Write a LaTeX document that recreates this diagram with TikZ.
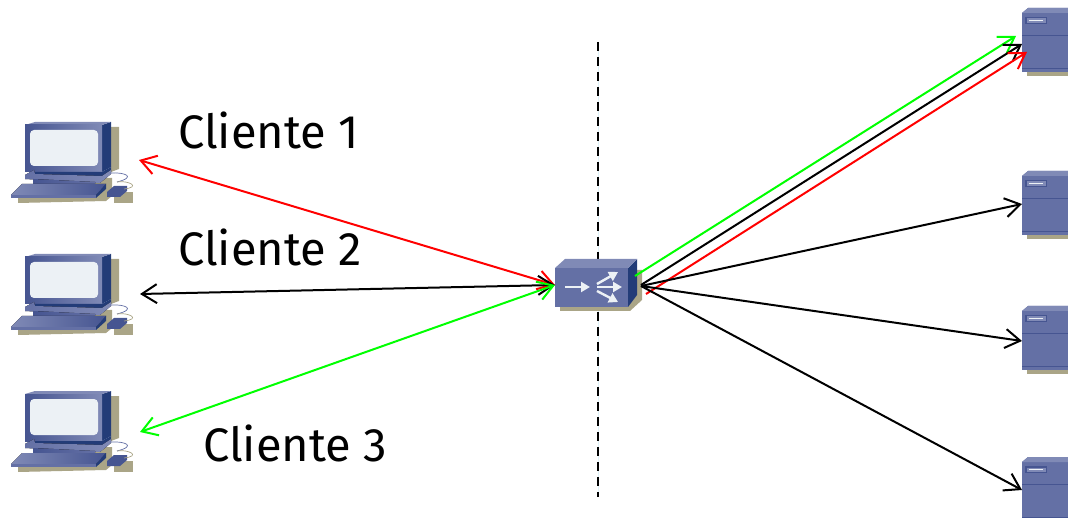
\documentclass[tikz,border=0pt]{standalone}
\usepackage{fontspec}
\setmainfont{Fira Sans}
\usetikzlibrary{arrows.meta}
\definecolor{shad}{RGB}{170,165,135}
\definecolor{blueA}{RGB}{100,112,165}
\definecolor{blueB}{RGB}{128,138,182}
\definecolor{blueC}{RGB}{35,60,120}
\definecolor{blueD}{RGB}{70,85,145}
\definecolor{screenc}{RGB}{236,241,245}
\definecolor{grn}{RGB}{0,255,0}
\tikzset{
 barb/.tip={Straight Barb[length=15pt,width=19pt,line width=2pt]},
 conn/.style={line width=2pt,-barb},
 connb/.style={line width=2pt,barb-barb},
 lab/.style={font=\fontsize{47}{50}\selectfont,anchor=base west,inner sep=0pt},
 swarrow/.style={screenc,line width=2.4pt,-{Triangle[length=9pt,width=10pt]}},
 pc/.pic={
  \fill[shad] (111,127)--(119,127)--(119,169)--(111,172)--cycle;
  \fill[shad] (100,178)--(112,178)--(112,196)--(106,201)--(18,203)--(18,195)--cycle;
  \fill[shad] (114,192)--(133,192)--(133,203)--(114,203)--cycle;
  \fill[blueC] (102,125)--(111,122)--(111,167)--(102,172)--cycle;
  \fill[blueB] (25,125)--(35,122)--(111,122)--(102,125)--cycle;
  \fill[left color=blueD,right color=blueB] (25,125) rectangle (102,172);
  \fill[screenc,rounded corners=4pt] (30,130) rectangle (98,166);
  \fill[blueC] (33,172)--(102,172)--(111,167)--(111,172)--(102,178)--(33,176)--cycle;
  \fill[left color=blueA,right color=blueB] (25,175)--(34,170)--(35,174)--(102,176)--(111,170)--(111,174)--(100,183)--(25,179)--cycle;
  \fill[left color=blueD,right color=blueA] (33,179)--(95,182)--(95,184)--(33,184)--cycle;
  \fill[left color=blueB,right color=blueD] (22,184)--(106,184)--(96,195)--(11,195)--cycle;
  \fill[blueA] (11,195)--(96,195)--(96,198)--(11,198)--cycle;
  \fill[blueC] (96,195)--(106,184)--(106,189)--(96,198)--cycle;
  \fill[blueD] (114,186)--(127,186)--(127,191)--(120,197)--(107,197)--(107,192)--cycle;
  \draw[blueA,line width=.7pt] (110,173) .. controls (125,172) and (137,177) .. (117,182);
  \draw[shad,line width=.7pt] (117,182) .. controls (128,180) and (142,187) .. (124,189);
 },
 server/.pic={
  \fill[shad] (5,64) rectangle (46,68);
  \fill[blueA] (0,5)--(6,0)--(46,0)--(46,64)--(0,64)--cycle;
  \fill[blueB] (0,5)--(6,0)--(46,0)--(46,5)--cycle;
  \draw[blueD,line width=.5pt] (0,27)--(46,27);
  \draw[blueD,line width=.5pt] (0,60)--(46,60);
  \fill[blueD] (3,9) rectangle (25,16);
  \fill[blueB] (5,10.5) rectangle (24,15);
  \draw[screenc,line width=1pt] (7,12.5)--(21,12.5);
 }
}
\begin{document}
\begin{tikzpicture}[x=1pt,y=-1pt]
\useasboundingbox (0,0) rectangle (1068,518);
\coordinate (dt) at (598,42);
\coordinate (db) at (598,497);
\draw[line width=.8pt,black!12!cyan!12] (dt)--(db);
\draw[line width=2.2pt,dash pattern=on 9pt off 6pt] (dt)--(db);
\pic at (0,0) {pc};
\pic at (0,132) {pc};
\pic at (0,269) {pc};
\pic at (1022,8) {server};
\pic at (1022,171) {server};
\pic at (1022,306) {server};
\pic at (1022,457) {server};
% switch
\fill[shad] (637,270)--(642,270)--(642,300)--(630,311)--(560,311)--(560,307)--(628,307)--cycle;
\fill[blueC] (628,268)--(637,259)--(637,295)--(628,307)--cycle;
\fill[blueB] (555,268)--(565,259)--(637,259)--(628,268)--cycle;
\fill[blueA] (555,268) rectangle (628,307);
\coordinate (a1) at (565,287); \coordinate (a2) at (590,287);
\coordinate (a3) at (597,284); \coordinate (a4) at (618,272);
\coordinate (a5) at (597,287); \coordinate (a6) at (622,287);
\coordinate (a7) at (597,291); \coordinate (a8) at (618,302);
\draw[swarrow] (a1)--(a2);
\draw[swarrow] (a3)--(a4);
\draw[swarrow] (a5)--(a6);
\draw[swarrow] (a7)--(a8);
\coordinate (swl) at (555,285);
\coordinate (swr) at (641,286);
\coordinate (swg) at (635,276);
\coordinate (swk) at (641,285);
\coordinate (swo) at (646,294);
\coordinate (c1) at (139,160);
\coordinate (c2) at (140,294);
\coordinate (c3) at (140,432);
\coordinate (s1g) at (1016,36);
\coordinate (s1k) at (1022,44);
\coordinate (s1r) at (1027,52);
\coordinate (s2) at (1022,204);
\coordinate (s3) at (1022,341);
\coordinate (s4) at (1022,490);
\draw[connb,red] (swl)--(c1);
\draw[connb] (swl)--(c2);
\draw[connb,grn] (swl)--(c3);
\draw[conn,grn] (swg)--(s1g);
\draw[conn] (swk)--(s1k);
\draw[conn,red] (swo)--(s1r);
\draw[conn] (swr)--(s2);
\draw[conn] (swr)--(s3);
\draw[conn] (swr)--(s4);
\node[lab] (l1) at (178,149) {Cliente 1};
\node[lab] (l2) at (178,266) {Cliente 2};
\node[lab] (l3) at (203,461) {Cliente 3};
\end{tikzpicture}
\end{document}
